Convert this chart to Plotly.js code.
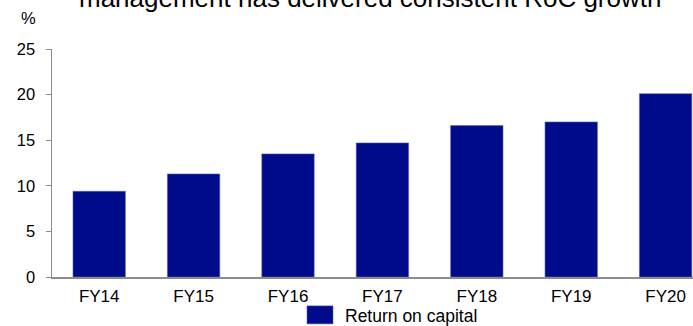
<!DOCTYPE html>
<html>
<head>
<meta charset="utf-8">
<script src="https://cdn.plot.ly/plotly-3.0.1.min.js"></script>
<style>html,body{margin:0;padding:0;background:#fff;}</style>
</head>
<body>
<div id="chart" style="width:693px;height:326px;"></div>
<script>
const categories = ["FY14", "FY15", "FY16", "FY17", "FY18", "FY19", "FY20"];
const returnOnCapital = [9.4, 11.3, 13.5, 14.7, 16.6, 17.0, 20.1];
const seriesName = "Return on capital";
const yTicks = [0, 5, 10, 15, 20, 25];
const titleText = "management has delivered consistent RoC growth";
const unitLabel = "%";

const font = "Liberation Sans, Arial, sans-serif";

const trace = {
  type: "bar",
  x: categories,
  y: returnOnCapital,
  name: seriesName,
  marker: { color: "#000B8C", line: { color: "#5a62ad", width: 0.6 } },
  showlegend: true
};

const layout = {
  width: 693,
  height: 326,
  margin: { l: 52, r: 0, t: 49, b: 49 },
  paper_bgcolor: "#fff",
  plot_bgcolor: "#fff",
  font: { family: font, size: 16.5, color: "#000" },
  bargap: 0.445,
  xaxis: {
    type: "category",
    range: [-0.5, 6.29],
    showgrid: false,
    zeroline: false,
    showline: true,
    linecolor: "#8c8c8c",
    linewidth: 2,
    ticks: "",
    tickfont: { family: font, size: 17, color: "#000" },
    ticklabelstandoff: 3,
    automargin: false,
    fixedrange: true
  },
  yaxis: {
    range: [0, 25],
    tickvals: yTicks,
    showgrid: false,
    zeroline: false,
    showline: true,
    linecolor: "#8c8c8c",
    linewidth: 1.5,
    ticks: "outside",
    ticklen: 5,
    tickcolor: "#8c8c8c",
    tickwidth: 1,
    tickfont: { family: font, size: 16.5, color: "#000" },
    ticklabelstandoff: 7,
    automargin: false,
    fixedrange: true
  },
  legend: {
    orientation: "h",
    xref: "container",
    yref: "container",
    x: 305 / 693,
    xanchor: "left",
    y: 1 - 315 / 326,
    yanchor: "middle",
    font: { family: font, size: 17.5, color: "#000" },
    bgcolor: "rgba(0,0,0,0)"
  },
  annotations: [
    {
      text: titleText,
      xref: "paper", yref: "paper",
      x: 0.496, y: 1.224,
      xanchor: "center", yanchor: "middle",
      showarrow: false,
      font: { family: font, size: 26, color: "#000" }
    },
    {
      text: unitLabel,
      xref: "paper", yref: "paper",
      x: -0.037, y: 1.136,
      xanchor: "center", yanchor: "middle",
      showarrow: false,
      font: { family: font, size: 16.5, color: "#000" }
    }
  ]
};

Plotly.newPlot("chart", [trace], layout, { displayModeBar: false, staticPlot: true }).then(function (gd) {
  gd.querySelectorAll(".legend .legendpoints path").forEach(function (p) {
    p.setAttribute("d", "M8,9H-18V-9H8Z");
  });
});
</script>
</body>
</html>
